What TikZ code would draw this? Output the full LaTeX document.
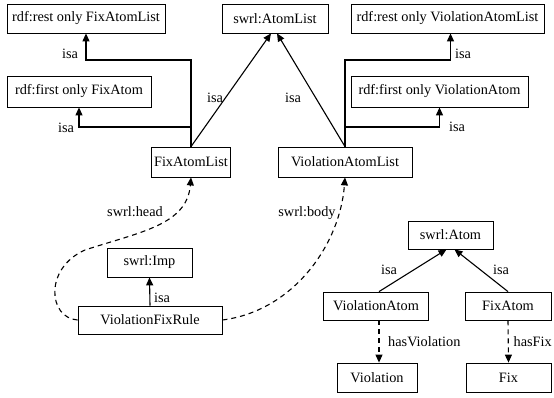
\documentclass[tikz,border=0pt]{standalone}
\usepackage{fontspec}
\setmainfont{Liberation Serif}
\usetikzlibrary{arrows.meta,calc}
\begin{document}
\begin{tikzpicture}[x=1pt,y=-1pt,
  box/.style={draw,rectangle,inner sep=0pt,line width=0.8pt,font=\fontsize{14.3}{16}\selectfont},
  lbl/.style={inner sep=1pt,font=\fontsize{14.3}{16}\selectfont},
  conn/.style={line width=1.1pt},
  arr/.style={conn,-{Triangle[width=7pt,length=8pt]}},
  darr/.style={arr,dash pattern=on 5pt off 4pt}]
\useasboundingbox (0,0) rectangle (554,398);
% top row
\node[box,minimum width=158pt,minimum height=29pt] (rfal) at (86,18.5) {rdf:rest only FixAtomList};
\node[box,minimum width=106pt,minimum height=29pt] (sal) at (275,18.5) {swrl:AtomList};
\node[box,minimum width=193pt,minimum height=29pt] (rval) at (447.5,18.5) {rdf:rest only ViolationAtomList};
\node[box,minimum width=144pt,minimum height=31pt] (rffa) at (79,91.5) {rdf:first only FixAtom};
\node[box,minimum width=177pt,minimum height=31pt] (rfva) at (439.5,91.5) {rdf:first only ViolationAtom};
\node[box,minimum width=79pt,minimum height=30pt] (fal) at (191,162) {FixAtomList};
\node[box,minimum width=134pt,minimum height=30pt] (val) at (345,162) {ViolationAtomList};
% lower left
\node[box,minimum width=85pt,minimum height=29pt] (imp) at (149.5,262.5) {swrl:Imp};
\node[box,minimum width=144pt,minimum height=28pt] (vfr) at (150,320) {ViolationFixRule};
% lower right
\node[box,minimum width=85pt,minimum height=28pt] (satom) at (450.5,235) {swrl:Atom};
\node[box,minimum width=105pt,minimum height=28pt] (va) at (376,306) {ViolationAtom};
\node[box,minimum width=86pt,minimum height=28pt] (fa) at (508,306) {FixAtom};
\node[box,minimum width=80pt,minimum height=29pt] (viol) at (377,377.5) {Violation};
\node[box,minimum width=85pt,minimum height=29pt] (fix) at (508.5,377.5) {Fix};
% FixAtomList isa edges
\draw[arr] (fal.north) -- (fal.north|-0,60) -| (rfal.south);
\draw[arr] (fal.north|-0,127) -| (rffa.south);
\draw[arr] (fal.north) -- ($(sal.south)+(-4,0)$);
% ViolationAtomList isa edges
\draw[arr] (val.north) -- (val.north|-0,60) -| ($(rval.south)+(3,0)$);
\draw[arr] (val.north|-0,127) -| (rfva.south);
\draw[arr] (val.north) -- ($(sal.south)+(2,0)$);
\node[lbl] (l1) at (70,54) {isa};
\node[lbl] (l2) at (66,128) {isa};
\node[lbl] (l3) at (215,98) {isa};
\node[lbl] (l4) at (293,98) {isa};
\node[lbl] (l5) at (463,54) {isa};
\node[lbl] (l6) at (457,127) {isa};
% rule
\draw[arr] (vfr.north) -- (imp.south);
\node[lbl] (l7) at (162,298) {isa};
\draw[darr] (vfr.west) .. controls (48,318) and (44,268) .. (85,250)
  .. controls (140,232) and (187,225) .. (fal.south);
\draw[darr] (vfr.east) .. controls (293,311) and (340,245) .. (val.south);
\node[lbl] (l8) at (135,212) {swrl:head};
\node[lbl] (l9) at (307,213) {swrl:body};
% atoms
\draw[arr] ($(va.north)+(3,0)$) -- ($(satom.south)+(-4,0)$);
\draw[arr] (fa.north) -- ($(satom.south)+(4,0)$);
\node[lbl] (l10) at (389,270) {isa};
\node[lbl] (l11) at (501,270) {isa};
\draw[darr] ($(va.south)+(3,0)$) -- ($(viol.north)+(2,0)$);
\draw[darr] (fa.south) -- (fix.north);
\node[lbl,anchor=west] (l12) at (387,342) {hasViolation};
\node[lbl,anchor=east] (l13) at (553,342) {hasFix};
\end{tikzpicture}
\end{document}
